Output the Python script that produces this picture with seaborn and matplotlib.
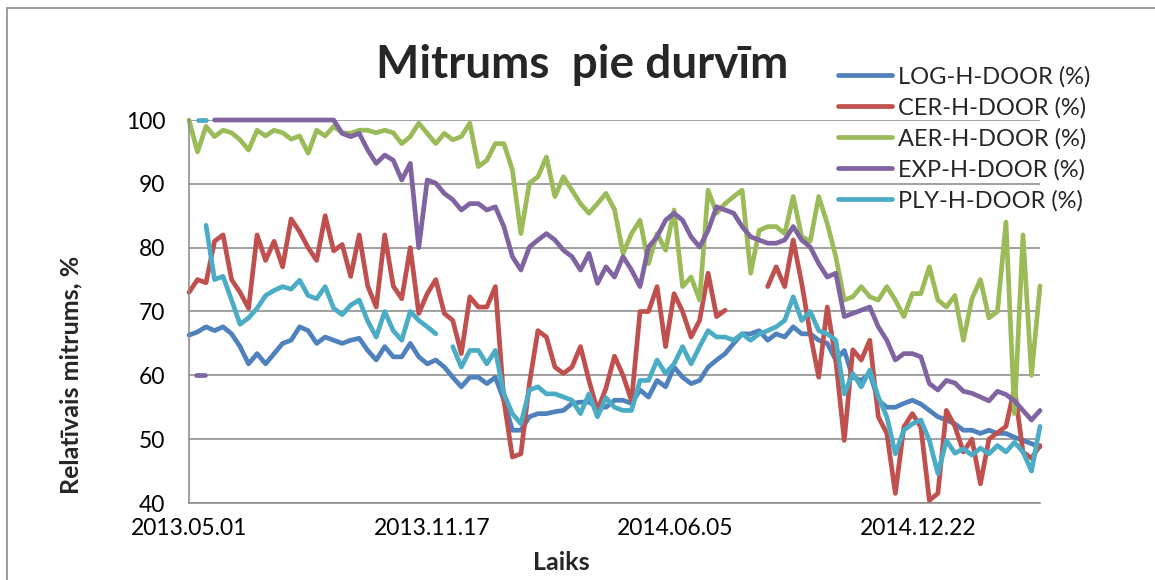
import numpy as np
import pandas as pd
import matplotlib.pyplot as plt
import seaborn as sns
from matplotlib.lines import Line2D

START_DATE = "2013-05-01"
STEP_DAYS = 7
nan = np.nan

# weekly readings (nan = no data)
log_h = [66.3, 66.8, 67.6, 67.0, 67.6, 66.5, 64.5, 61.8, 63.4, 61.8,
         63.4, 65.0, 65.5, 67.6, 67.0, 65.0, 66.0, 65.5, 65.0, 65.5,
         65.8, 63.9, 62.4, 64.5, 62.9, 62.9, 65.0, 62.9, 61.8, 62.4,
         61.3, 59.7, 58.2, 59.7, 59.7, 58.7, 59.7, 56.1, 51.4, 51.4,
         53.5, 54.0, 54.0, 54.3, 54.5, 55.6, 55.8, 55.8, 55.0, 55.0,
         56.1, 56.1, 55.6, 57.7, 56.6, 59.2, 58.2, 61.3, 59.7, 58.7,
         59.2, 61.3, 62.4, 63.4, 65.0, 66.5, 66.5, 67.0, 65.5, 66.5,
         66.0, 67.6, 66.5, 66.5, 65.5, 65.0, 62.4, 63.9, 59.7, 59.2,
         60.3, 56.1, 55.0, 55.0, 55.6, 56.1, 55.5, 54.5, 53.5, 53.0,
         52.4, 51.4, 51.4, 50.9, 51.4, 50.9, 50.9, 50.3, 49.8, 49.3, 48.8]

cer_h = [73.0, 75.0, 74.5, 81.0, 82.0, 75.0, 73.0, 70.5, 82.0, 78.0,
         81.0, 77.0, 84.5, 82.5, 80.0, 78.0, 85.0, 79.5, 80.5, 75.5,
         82.0, 74.0, 70.7, 82.0, 74.0, 72.0, 80.0, 69.7, 72.8, 75.0,
         69.7, 68.6, 63.4, 72.3, 70.7, 70.7, 73.9, 56.1, 47.2, 47.7,
         58.7, 67.0, 66.0, 61.3, 60.3, 61.3, 64.5, 59.2, 54.5, 58.0,
         63.0, 60.0, 56.0, 70.0, 70.0, 73.9, 64.5, 72.8, 70.0, 66.0,
         68.6, 76.0, 69.2, 70.2, nan, nan, nan, nan, 73.9, 77.0,
         73.9, 81.2, 74.4, 66.5, 59.7, 70.7, 62.4, 49.8, 64.0, 62.4,
         65.5, 53.5, 50.9, 41.5, 51.9, 54.0, 51.9, 40.4, 41.5, 54.5,
         52.0, 48.0, 50.0, 43.0, 50.0, 51.0, 52.0, 58.0, 48.0, 47.0, 49.0]

aer_h = [100.0, 95.0, 99.0, 97.4, 98.4, 98.0, 96.9, 95.3, 98.4, 97.5,
         98.4, 98.0, 97.0, 97.5, 94.8, 98.4, 97.5, 99.0, 98.0, 97.9,
         98.4, 98.4, 98.0, 98.4, 98.0, 96.3, 97.4, 99.5, 97.9, 96.3,
         97.9, 96.9, 97.4, 99.5, 92.7, 93.7, 96.3, 96.3, 92.2, 82.2,
         90.1, 91.1, 94.2, 88.0, 91.1, 89.0, 86.9, 85.4, 86.9, 88.5,
         86.0, 79.1, 82.2, 84.3, 77.5, 82.2, 79.6, 85.9, 73.9, 75.4,
         71.8, 89.0, 85.4, 86.9, 88.0, 89.0, 76.0, 82.7, 83.3, 83.3,
         82.2, 88.0, 81.7, 81.0, 88.0, 83.8, 78.6, 71.8, 72.3, 73.9,
         72.3, 71.8, 73.9, 71.8, 69.2, 72.8, 72.8, 77.0, 71.8, 70.7,
         72.5, 65.5, 72.0, 75.0, 69.0, 70.0, 84.0, 54.0, 82.0, 60.0, 74.0]

exp_h = [nan, nan, nan, 100.0, 100.0, 100.0, 100.0, 100.0, 100.0, 100.0,
         100.0, 100.0, 100.0, 100.0, 100.0, 100.0, 100.0, 100.0, 97.9, 97.4,
         97.9, 95.3, 93.2, 94.5, 93.7, 90.6, 93.2, 80.0, 90.6, 90.1,
         88.5, 87.5, 85.9, 86.9, 86.9, 85.9, 86.4, 83.3, 78.6, 76.5,
         80.1, 81.2, 82.2, 81.2, 79.6, 78.6, 76.5, 79.1, 74.4, 77.0,
         75.4, 78.6, 76.5, 73.9, 80.1, 81.7, 84.3, 85.4, 84.3, 81.7,
         80.1, 82.7, 86.4, 85.9, 85.4, 83.3, 81.7, 81.2, 80.7, 80.7,
         81.2, 83.3, 81.2, 80.1, 77.5, 75.4, 76.0, 69.2, 69.7, 70.2,
         70.7, 67.6, 65.5, 62.4, 63.4, 63.4, 62.9, 58.7, 57.7, 59.2,
         58.8, 57.5, 57.2, 56.6, 56.0, 57.5, 57.0, 56.0, 54.5, 53.0, 54.5]

ply_h = [nan, nan, 83.5, 75.0, 75.5, 71.8, 68.0, 69.0, 70.5, 72.5,
         73.3, 73.9, 73.5, 74.9, 72.5, 72.0, 73.9, 70.5, 69.5, 71.0,
         71.8, 68.5, 66.0, 70.0, 67.0, 65.5, 70.0, 68.6, 67.6, 66.5,
         nan, 64.5, 61.3, 63.9, 63.9, 61.8, 63.9, 57.1, 54.0, 52.4,
         57.7, 58.2, 57.1, 57.1, 56.6, 56.1, 54.0, 57.1, 53.5, 56.5,
         55.0, 54.5, 54.5, 59.2, 59.2, 62.4, 60.3, 61.8, 64.5, 61.8,
         64.5, 67.0, 66.0, 66.0, 65.5, 66.5, 65.5, 66.5, 67.0, 67.6,
         68.6, 72.3, 68.6, 70.0, 67.0, 66.5, 65.5, 57.1, 60.3, 58.2,
         60.8, 56.6, 53.5, 47.7, 51.4, 52.4, 53.0, 49.8, 44.6, 49.8,
         47.8, 48.5, 47.5, 48.6, 47.7, 49.0, 48.0, 49.5, 48.0, 45.0, 52.0]

# short early readings that stand apart from the weekly lines
exp_early_days = [6, 13]
exp_early = [60.0, 60.0]
ply_early_days = [7, 14]
ply_early = [100.0, 100.0]

series_names = ["LOG-H-DOOR (%)", "CER-H-DOOR (%)", "AER-H-DOOR (%)",
                "EXP-H-DOOR (%)", "PLY-H-DOOR (%)"]
series_colors = ["#4F81BD", "#C0504D", "#9BBB59", "#8064A2", "#4BACC6"]
tick_labels = ["2013.05.01", "2013.11.17", "2014.06.05", "2014.12.22"]
y_ticks = [40, 50, 60, 70, 80, 90, 100]

W, H = 1155, 580
GREY = "#868686"
LINE_W = 3.4


def to_frame(name, days, values, tag):
    df = pd.DataFrame({"day": days, "value": values})
    # every gap starts a new piece of line
    df["segment"] = df["value"].isna().cumsum()
    df = df.dropna().copy()
    df["segment"] = name + tag + df["segment"].astype(str)
    df["series"] = name
    return df


weekly_days = np.arange(len(log_h)) * STEP_DAYS
parts = []
for name, vals in zip(series_names, [log_h, cer_h, aer_h, exp_h, ply_h]):
    parts.append(to_frame(name, weekly_days, vals, "_w"))
parts.append(to_frame(series_names[3], exp_early_days, exp_early, "_early"))
parts.append(to_frame(series_names[4], ply_early_days, ply_early, "_early"))
data = pd.concat(parts, ignore_index=True)
start = pd.Timestamp(START_DATE)
data["date"] = start + pd.to_timedelta(data["day"], unit="D")

sns.set_theme(style="white")
plt.rcParams["font.family"] = ["Lato", "DejaVu Sans"]

fig = plt.figure(figsize=(W / 100, H / 100), dpi=100)
ax = fig.add_axes([189 / W, 1 - 503 / H, (1040 - 189) / W, (503 - 120) / H])

sns.lineplot(data=data, x="date", y="value", hue="series", units="segment",
             estimator=None, hue_order=series_names,
             palette=dict(zip(series_names, series_colors)),
             linewidth=LINE_W, solid_capstyle="round", solid_joinstyle="round",
             clip_on=False, legend=False, ax=ax)

ax.set_xlim(start, start + pd.Timedelta(days=int(weekly_days[-1])))
ax.set_xticks(pd.to_datetime(tick_labels, format="%Y.%m.%d"))
ax.set_xticklabels(tick_labels)
ax.set_ylim(40, 100)
ax.set_yticks(y_ticks)
ax.set_xlabel("")
ax.set_ylabel("")

ax.yaxis.grid(True, color=GREY, linewidth=1.1)
ax.xaxis.grid(False)
ax.set_axisbelow(True)
for side in ["top", "right"]:
    ax.spines[side].set_visible(False)
for side in ["left", "bottom"]:
    ax.spines[side].set_color(GREY)
    ax.spines[side].set_linewidth(1.1)
ax.tick_params(axis="both", direction="out", length=6, width=1.1, color=GREY,
               labelsize=16.5, labelcolor="black")
ax.tick_params(axis="y", pad=11)
ax.tick_params(axis="x", pad=5)

fig.text(582 / W, 1 - 78 / H, "Mitrums  pie durvīm", ha="center",
         va="baseline", fontsize=33, fontweight="bold")
fig.text(71 / W, 1 - 375 / H, "Relatīvais mitrums, %", rotation=90,
         ha="center", va="center", fontsize=18, fontweight="bold")
fig.text(561 / W, 1 - 563 / H, "Laiks", ha="center", va="center",
         fontsize=18, fontweight="bold")

handles = [Line2D([], [], color=c, linewidth=LINE_W, solid_capstyle="round")
           for c in series_colors]
fig.legend(handles, series_names, loc="upper left",
           bbox_to_anchor=(838 / W, 1 - 66 / H), frameon=False, fontsize=17,
           handlelength=2.3, handletextpad=0.25, labelspacing=0.4,
           borderpad=0, borderaxespad=0)

# chart area border (top and left edge only are inside the picture)
fig.add_artist(Line2D([7 / W, 7 / W], [0, 1 - 8 / H], transform=fig.transFigure,
                      color="#8c8c8c", linewidth=1.2))
fig.add_artist(Line2D([7 / W, 1], [1 - 8 / H, 1 - 8 / H],
                      transform=fig.transFigure, color="#8c8c8c", linewidth=1.2))

fig.savefig("out.png", dpi=100)
